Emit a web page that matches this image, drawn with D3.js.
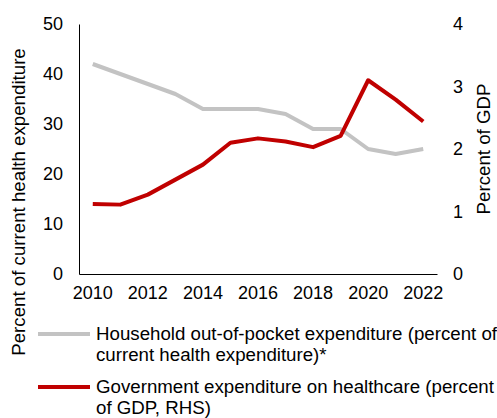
<!DOCTYPE html>
<html>
<head>
<meta charset="utf-8">
<script src="https://cdn.jsdelivr.net/npm/d3@7"></script>
<style>
  html, body { margin: 0; padding: 0; background: #fff; }
  svg { display: block; font-family: "Liberation Sans", Arial, sans-serif; }
</style>
</head>
<body>
<svg id="chart" width="497" height="418"></svg>
<script>
// Health spending series, 2010–2022
const years = [2010, 2011, 2012, 2013, 2014, 2015, 2016, 2017, 2018, 2019, 2020, 2021, 2022];
// Household out-of-pocket expenditure, % of current health expenditure (left axis)
const outOfPocket = [42, 40, 38, 36, 33, 33, 33, 32, 29, 29, 25, 24, 25];
// Government expenditure on healthcare, % of GDP (right axis)
const govHealth = [1.12, 1.11, 1.27, 1.51, 1.75, 2.10, 2.17, 2.12, 2.03, 2.21, 3.10, 2.79, 2.44];
const leftTicks = [0, 10, 20, 30, 40, 50];
const rightTicks = [0, 1, 2, 3, 4];
const xTickYears = [2010, 2012, 2014, 2016, 2018, 2020, 2022];

const legendItems = [
  { lines: ["Household out-of-pocket expenditure (percent of", "current health expenditure)*"], color: "#c3c3c3" },
  { lines: ["Government expenditure on healthcare (percent", "of GDP, RHS)"], color: "#c00000" }
];

const svg = d3.select("#chart");
const plot = { left: 79, right: 437, top: 24, bottom: 274 };
const tickSize = 18;
const textSize = 18.7;
const family = "Liberation Sans, Arial, sans-serif";

const x = d3.scaleBand().domain(years).range([plot.left, plot.right]);
const xc = d => x(d) + x.bandwidth() / 2;
const yL = d3.scaleLinear().domain([0, 50]).range([plot.bottom, plot.top]);
const yR = d3.scaleLinear().domain([0, 4]).range([plot.bottom, plot.top]);

function styleTicks(g) {
  g.selectAll("text").attr("font-size", tickSize).attr("font-family", family).attr("fill", "#000");
}

// Left axis
const leftAxis = svg.append("g")
  .attr("transform", `translate(${plot.left},0)`)
  .call(d3.axisLeft(yL).tickValues(leftTicks).tickFormat(d3.format("d")).tickSize(0).tickPadding(16));
leftAxis.select(".domain").attr("stroke", "#000").attr("stroke-width", 1);
styleTicks(leftAxis);

// Right axis (labels only)
const rightAxis = svg.append("g")
  .attr("transform", `translate(${plot.right},0)`)
  .call(d3.axisRight(yR).tickValues(rightTicks).tickFormat(d3.format("d")).tickSize(0).tickPadding(16));
rightAxis.select(".domain").remove();
styleTicks(rightAxis);

// Bottom axis
const bottomAxis = svg.append("g")
  .attr("transform", `translate(0,${plot.bottom})`)
  .call(d3.axisBottom(x).tickValues(xTickYears).tickSize(0).tickPadding(12).tickSizeOuter(0));
bottomAxis.select(".domain").attr("stroke", "#000").attr("stroke-width", 1);
styleTicks(bottomAxis);

// Axis titles
svg.append("text")
  .attr("transform", `translate(25,202) rotate(-90)`)
  .attr("text-anchor", "middle")
  .attr("font-size", textSize)
  .text("Percent of current health expenditure");
svg.append("text")
  .attr("transform", `translate(490,149) rotate(-90)`)
  .attr("text-anchor", "middle")
  .attr("font-size", textSize)
  .text("Percent of GDP");

// Series lines
const lineL = d3.line().x((d, i) => xc(years[i])).y(d => yL(d));
const lineR = d3.line().x((d, i) => xc(years[i])).y(d => yR(d));
svg.append("path").datum(outOfPocket)
  .attr("d", lineL).attr("fill", "none")
  .attr("stroke", legendItems[0].color).attr("stroke-width", 4).attr("stroke-linejoin", "round");
svg.append("path").datum(govHealth)
  .attr("d", lineR).attr("fill", "none")
  .attr("stroke", legendItems[1].color).attr("stroke-width", 4).attr("stroke-linejoin", "round");

// Legend
const legendY = [334, 387];
legendItems.forEach((item, i) => {
  const g = svg.append("g");
  g.append("line")
    .attr("x1", 38).attr("x2", 90)
    .attr("y1", legendY[i]).attr("y2", legendY[i])
    .attr("stroke", item.color).attr("stroke-width", 4);
  const t = g.append("text").attr("x", 96).attr("y", legendY[i] + 6).attr("font-size", textSize);
  item.lines.forEach((ln, j) => {
    t.append("tspan").attr("x", 96).attr("dy", j === 0 ? 0 : 21).text(ln);
  });
});
</script>
</body>
</html>
